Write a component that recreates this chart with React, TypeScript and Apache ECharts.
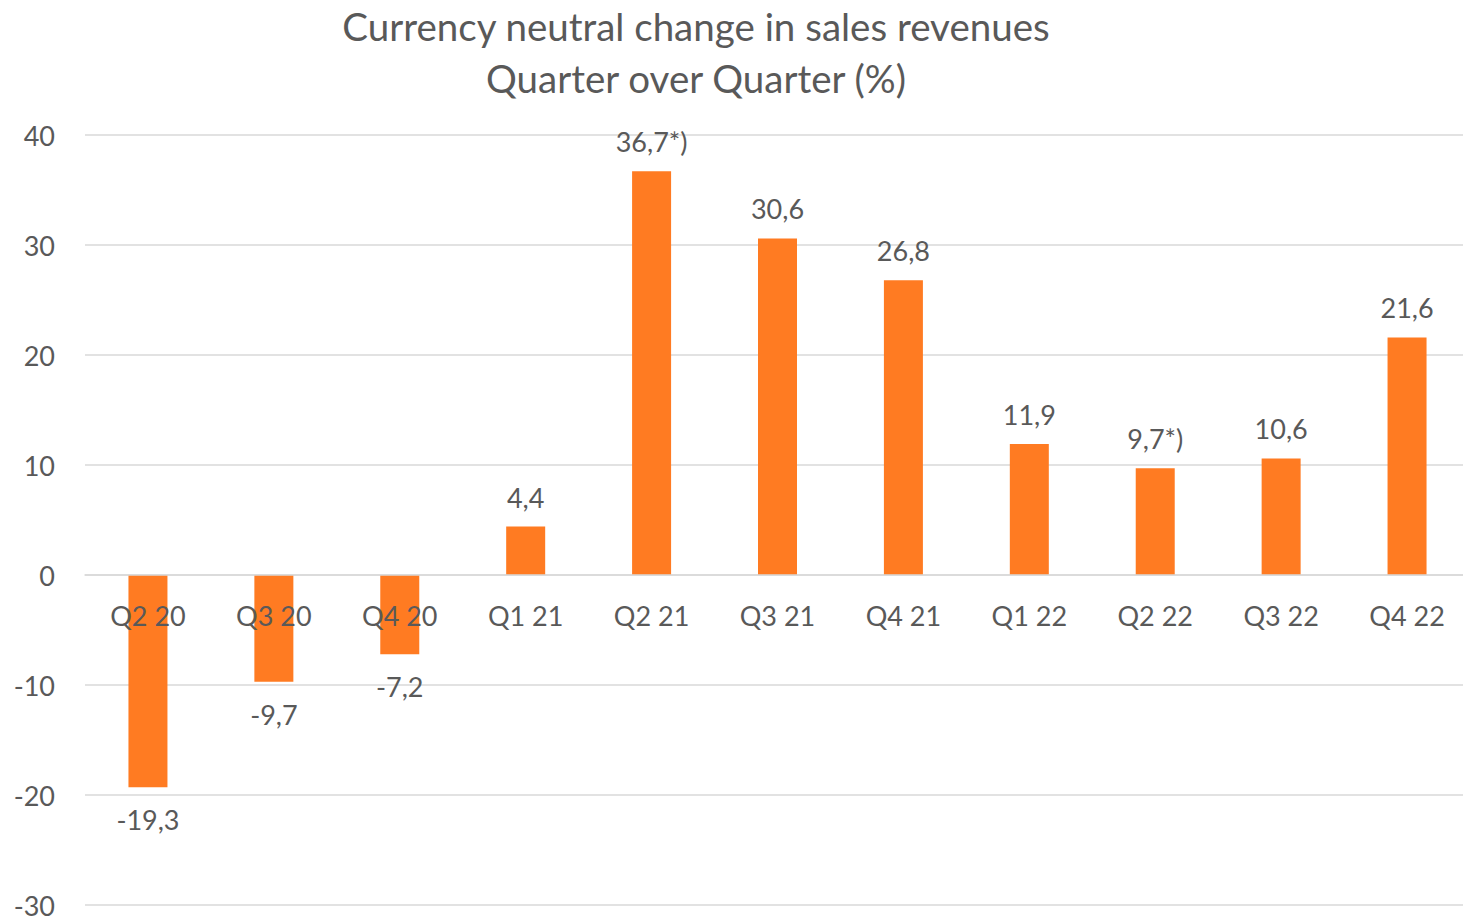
import React, { useEffect, useRef } from "react";
import * as echarts from "echarts";

const categories = ["Q2 20", "Q3 20", "Q4 20", "Q1 21", "Q2 21", "Q3 21", "Q4 21", "Q1 22", "Q2 22", "Q3 22", "Q4 22"];
const values = [-19.3, -9.7, -7.2, 4.4, 36.7, 30.6, 26.8, 11.9, 9.7, 10.6, 21.6];
const labelSuffix = ["", "", "", "", "*)", "", "", "", "*)", "", ""];
const titleLines = ["Currency neutral change in sales revenues", "Quarter over Quarter (%)"];
const yMin = -30;
const yMax = 40;

const FONT = "Lato, 'Open Sans', sans-serif";
const TEXT = "#595959";

export default function App() {
  const ref = useRef<HTMLDivElement>(null);
  useEffect(() => {
    if (!ref.current) return;
    const chart = echarts.init(ref.current, null, { renderer: "svg" });
    const gridTop = 135;
    const gridBottom = 11;
    const plotH = 916 - gridTop - gridBottom;
    const zeroOffset = -plotH * (0 - yMin) / (yMax - yMin);
    chart.setOption({
      animation: false,
      backgroundColor: "#ffffff",
      title: {
        text: titleLines.join("\n"),
        left: 691,
        top: -5,
        textAlign: "center",
        textStyle: { fontFamily: FONT, fontSize: 38.5, fontWeight: "normal", color: TEXT, lineHeight: 52 },
      },
      grid: { left: 85, right: -7, top: gridTop, bottom: gridBottom, containLabel: false, outerBoundsMode: "none" },
      xAxis: {
        type: "category",
        data: categories,
        offset: zeroOffset,
        axisLine: { show: true, onZero: false, lineStyle: { color: "#D9D9D9", width: 1.5 } },
        axisTick: { show: false },
        axisLabel: { fontFamily: FONT, fontSize: 27, color: TEXT, margin: 27 },
        z: 10,
      },
      yAxis: {
        type: "value",
        min: yMin,
        max: yMax,
        interval: 10,
        axisLine: { show: false },
        axisTick: { show: false },
        splitLine: { lineStyle: { color: "#D9D9D9", width: 1.5 } },
        axisLabel: { fontFamily: FONT, fontSize: 27, color: TEXT, margin: 30 },
      },
      series: [
        {
          type: "bar",
          data: values.map((v, i) => ({
            value: v,
            label: {
              show: true,
              position: v < 0 ? "bottom" : "top",
              distance: v < 0 ? 19 : 16,
              formatter: () => String(v).replace(".", ",") + labelSuffix[i],
            },
          })),
          barWidth: 39,
          itemStyle: { color: "#FF7B22" },
          label: { fontFamily: FONT, fontSize: 27, color: TEXT },
          z: 2,
        },
      ],
    });
    return () => chart.dispose();
  }, []);
  return <div ref={ref} style={{ position: "absolute", left: 0, top: 0, width: 1463, height: 916 }} />;
}
